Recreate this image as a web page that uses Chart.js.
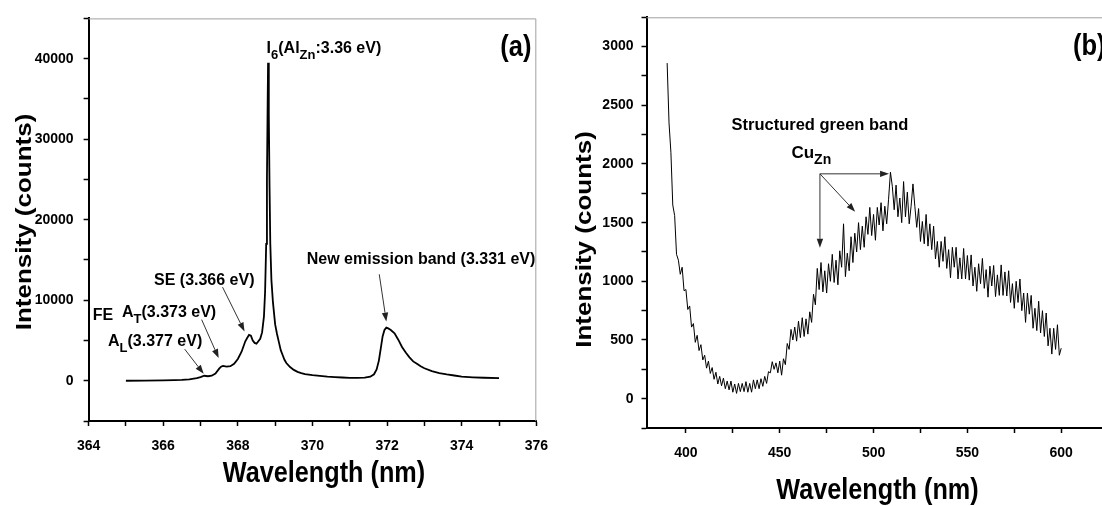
<!DOCTYPE html>
<html>
<head>
<meta charset="utf-8">
<script src="https://cdn.jsdelivr.net/npm/chart.js@4.4.0/dist/chart.umd.min.js"></script>
<style>
    html, body { margin: 0; padding: 0; background: #fff; overflow: hidden; }
    body { width: 1102px; height: 506px; position: relative; }
    canvas { position: absolute; top: 0; }
    #chartA { left: 0; }
    #chartB { left: 560px; }
</style>
</head>
<body>
<canvas id="chartA" width="560" height="506"></canvas>
<canvas id="chartB" width="580" height="506"></canvas>
<script>
// (a) near band edge spectrum
const wavelengthA = [365.0, 365.5, 366.0, 366.3, 366.5, 366.7, 366.9, 367.0, 367.1, 367.2, 367.3, 367.4, 367.5, 367.55, 367.6, 367.7, 367.8, 367.9, 368.0, 368.1, 368.2, 368.25, 368.3, 368.35, 368.4, 368.45, 368.5, 368.55, 368.6, 368.65, 368.7, 368.73, 368.76, 368.78, 368.8, 368.81, 368.83, 368.85, 368.87, 368.9, 368.94, 369.0, 369.05, 369.1, 369.15, 369.2, 369.25, 369.3, 369.4, 369.5, 369.6, 369.7, 369.8, 370.0, 370.2, 370.4, 370.6, 370.8, 371.0, 371.2, 371.4, 371.55, 371.65, 371.72, 371.78, 371.83, 371.88, 371.93, 371.98, 372.03, 372.1, 372.2, 372.3, 372.4, 372.5, 372.6, 372.7, 372.8, 372.9, 373.0, 373.2, 373.4, 373.6, 373.8, 374.0, 374.3, 374.6, 375.0];
const intensityA = [0, 20, 40, 70, 110, 180, 330, 450, 620, 560, 620, 900, 1500, 1750, 1850, 1750, 1800, 2100, 2700, 3600, 4900, 5300, 5700, 5600, 5000, 4700, 4600, 4900, 5200, 6000, 8000, 11000, 17000, 25000, 35000, 39500, 33000, 24000, 17000, 12500, 9800, 7000, 5800, 4800, 3800, 3200, 2600, 2200, 1700, 1350, 1100, 950, 830, 700, 600, 500, 440, 400, 360, 350, 380, 500, 800, 1400, 2500, 4000, 5500, 6300, 6600, 6500, 6300, 5900, 5100, 4200, 3500, 2900, 2400, 2100, 1800, 1550, 1200, 950, 780, 650, 500, 430, 370, 320];

// (b) visible / green band spectrum
const wavelengthB = [
    390, 391, 392, 393, 394, 395, 396, 397, 398, 399,
    400, 401, 402, 403, 404, 405, 406, 407, 408, 409,
    410, 411, 412, 413, 414, 415, 416, 417, 418, 419,
    420, 421, 422, 423, 424, 425, 426, 427, 428, 429,
    430, 431, 432, 433, 434, 435, 436, 437, 438, 439,
    440, 441, 442, 443, 444, 445, 446, 447, 448, 449,
    450, 451, 452, 453, 454, 455, 456, 457, 458, 459,
    460, 461, 462, 463, 464, 465, 466, 467, 468, 469,
    470, 471, 472, 473, 474, 475, 476, 477, 478, 479,
    480, 481, 482, 483, 484, 485, 486, 487, 488, 489,
    490, 491, 492, 493, 494, 495, 496, 497, 498, 499,
    500, 501, 502, 503, 504, 505, 506, 507, 508, 509,
    510, 511, 512, 513, 514, 515, 516, 517, 518, 519,
    520, 521, 522, 523, 524, 525, 526, 527, 528, 529,
    530, 531, 532, 533, 534, 535, 536, 537, 538, 539,
    540, 541, 542, 543, 544, 545, 546, 547, 548, 549,
    550, 551, 552, 553, 554, 555, 556, 557, 558, 559,
    560, 561, 562, 563, 564, 565, 566, 567, 568, 569,
    570, 571, 572, 573, 574, 575, 576, 577, 578, 579,
    580, 581, 582, 583, 584, 585, 586, 587, 588, 589,
    590, 591, 592, 593, 594, 595, 596, 597, 598, 599,
    600
];
const intensityB = [
    2860, 2350, 2100, 1650, 1560, 1230, 1180, 1060, 1120, 920,
    930, 760, 790, 610, 640, 480, 540, 410, 460, 330,
    370, 260, 320, 215, 265, 165, 225, 125, 190, 110,
    175, 85, 150, 75, 150, 55, 125, 45, 130, 60,
    130, 60, 145, 55, 130, 55, 160, 85, 160, 85,
    170, 105, 190, 130, 230, 220, 315, 250, 305, 220,
    320, 200, 340, 290, 470, 420, 590, 500, 610, 490,
    660, 520, 690, 530, 680, 550, 740, 650, 890, 800,
    1110, 930, 1160, 910, 1090, 900, 1150, 1000, 1230, 990,
    1180, 970, 1260, 1120, 1490, 1040, 1240, 1090, 1380, 1160,
    1410, 1250, 1500, 1270, 1470, 1290, 1550, 1400, 1630, 1390,
    1570, 1350, 1630, 1480, 1670, 1430, 1640, 1490, 1700, 1930,
    1810, 1610, 1820, 1550, 1710, 1500, 1850, 1550, 1760, 1490,
    1640, 1830, 1640, 1460, 1620, 1340, 1510, 1320, 1570, 1300,
    1490, 1270, 1470, 1190, 1340, 1120, 1340, 1170, 1380, 1110,
    1270, 1030, 1290, 1120, 1290, 1020, 1200, 1020, 1280, 1020,
    1220, 1010, 1225, 960, 1120, 915, 1150, 980, 1195, 940,
    1100, 865, 1130, 960, 1135, 870, 1055, 880, 1140, 880,
    1080, 875, 1090, 820, 980, 770, 1000, 820, 1020, 750,
    900, 650, 900, 720, 880, 600, 770, 580, 830, 560,
    750, 530, 730, 450, 600, 380, 600, 420, 630, 370,
    430
];

// tick labels shown
const xLabelsA = [364, 366, 368, 370, 372, 374, 376];
const yLabelsA = [0, 10000, 20000, 30000, 40000];
const xLabelsB = [400, 450, 500, 550, 600];
const yLabelsB = [0, 500, 1000, 1500, 2000, 2500, 3000];

const SANS = "'Liberation Sans', Arial, sans-serif";

function drawArrow(ctx, x1, y1, x2, y2) {
    const ang = Math.atan2(y2 - y1, x2 - x1);
    const len = 9, half = 3.2;
    const bx = x2 - len * Math.cos(ang), by = y2 - len * Math.sin(ang);
    ctx.save();
    ctx.strokeStyle = '#333';
    ctx.fillStyle = '#222';
    ctx.lineWidth = 1;
    ctx.beginPath();
    ctx.moveTo(x1, y1);
    ctx.lineTo(bx, by);
    ctx.stroke();
    ctx.beginPath();
    ctx.moveTo(x2, y2);
    ctx.lineTo(bx + half * Math.sin(ang), by - half * Math.cos(ang));
    ctx.lineTo(bx - half * Math.sin(ang), by + half * Math.cos(ang));
    ctx.closePath();
    ctx.fill();
    ctx.restore();
}

// parts: [text, isSubscript]; sx squeezes the text horizontally
function drawRich(ctx, parts, x, y, size, sx, align) {
    const sub = Math.round(size * 0.82);
    ctx.save();
    ctx.fillStyle = '#000';
    ctx.textBaseline = 'middle';
    ctx.textAlign = 'left';
    let total = 0;
    parts.forEach(p => {
        ctx.font = `bold ${p[1] ? sub : size}px ${SANS}`;
        total += ctx.measureText(p[0]).width * sx;
    });
    ctx.translate(align === 'center' ? x - total / 2 : x, y);
    ctx.scale(sx, 1);
    let cx = 0;
    parts.forEach(p => {
        ctx.font = `bold ${p[1] ? sub : size}px ${SANS}`;
        ctx.fillText(p[0], cx, p[1] ? size * 0.42 : 0);
        cx += ctx.measureText(p[0]).width;
    });
    ctx.restore();
}

const overlay = {
    id: 'overlay',
    beforeDatasetsDraw(chart) {
        const {ctx, chartArea: a} = chart;
        ctx.save();
        ctx.strokeStyle = '#a0a0a0';
        ctx.lineWidth = 1;
        ctx.beginPath();
        ctx.moveTo(a.left, a.top + 0.5);
        ctx.lineTo(a.right - 0.5, a.top + 0.5);
        ctx.lineTo(a.right - 0.5, a.bottom);
        ctx.stroke();
        ctx.restore();
    },
    afterDraw(chart, args, opts) {
        const {ctx, scales: {x, y}} = chart;
        (opts.arrows || []).forEach(a => {
            drawArrow(ctx, x.getPixelForValue(a[0]), y.getPixelForValue(a[1]),
                x.getPixelForValue(a[2]), y.getPixelForValue(a[3]));
        });
        (opts.notes || []).forEach(n => {
            drawRich(ctx, n.parts, x.getPixelForValue(n.x), y.getPixelForValue(n.y), n.size, n.sx || 1, n.align);
        });
        // axis titles, squeezed like the original figure
        (opts.titles || []).forEach(t => {
            ctx.save();
            ctx.translate(t.cx, t.cy);
            if (t.rotate) ctx.rotate(-Math.PI / 2);
            ctx.scale(t.sx, t.sy);
            ctx.font = `bold ${t.size}px ${SANS}`;
            ctx.fillStyle = '#000';
            ctx.textAlign = 'center';
            ctx.textBaseline = 'middle';
            ctx.fillText(t.text, 0, 0);
            ctx.restore();
        });
    }
};

function axisOpts(min, max, step, labels, width, height, pad) {
    return {
        type: 'linear',
        min: min,
        max: max,
        afterFit(scale) {
            if (width) scale.width = width;
            if (height) scale.height = height;
        },
        border: { display: true, color: '#000', width: 2 },
        grid: { display: true, drawOnChartArea: false, drawTicks: true, tickLength: 5, tickColor: '#000', tickWidth: 1.5 },
        ticks: {
            stepSize: step,
            autoSkip: false,
            includeBounds: false,
            maxRotation: 0,
            padding: pad,
            color: '#000',
            font: { family: SANS, size: 14, weight: 'bold' },
            callback: v => labels.includes(v) ? String(v) : ''
        }
    };
}

function makeChart(id, xs, ys, lineWidth, xAxis, yAxis, padding, overlayOpts) {
    return new Chart(document.getElementById(id), {
        type: 'line',
        data: {
            datasets: [{
                data: xs.map((v, i) => ({ x: v, y: ys[i] })),
                borderColor: '#000',
                borderWidth: lineWidth,
                pointRadius: 0,
                tension: 0,
                fill: false
            }]
        },
        options: {
            responsive: false,
            animation: false,
            layout: { padding: padding },
            scales: { x: xAxis, y: yAxis },
            plugins: { legend: { display: false }, tooltip: { enabled: false }, overlay: overlayOpts }
        },
        plugins: [overlay]
    });
}

makeChart('chartA', wavelengthA, intensityA, 1.8,
    axisOpts(364, 376, 1, xLabelsA, null, 85, 12),
    axisOpts(-5000, 45000, 5000, yLabelsA, 88.6, null, 10),
    { left: 0, top: 12.7, right: 22.5, bottom: 0 },
    {
        arrows: [
            [371.79, 13220, 371.98, 7344],
            [367.59, 11628, 368.18, 6120],
            [367.03, 7589, 367.486, 2815],
            [366.577, 3917, 367.085, 857]
        ],
        notes: [
            { parts: [['I', 0], ['6', 1], ['(Al', 0], ['Zn', 1], [':3.36 eV)', 0]], x: 368.77, y: 41250, size: 16, align: 'left' },
            { parts: [['(a)', 0]], x: 375.45, y: 41370, size: 30, sx: 0.85, align: 'center' },
            { parts: [['New emission band (3.331 eV)', 0]], x: 372.91, y: 15050, size: 16, align: 'center' },
            { parts: [['SE (3.366 eV)', 0]], x: 367.10, y: 12485, size: 16, align: 'center' },
            { parts: [['FE', 0]], x: 364.385, y: 8078, size: 16, align: 'center' },
            { parts: [['A', 0], ['T', 1], ['(3.373 eV)', 0]], x: 364.895, y: 8446, size: 16, align: 'left' },
            { parts: [['A', 0], ['L', 1], ['(3.377 eV)', 0]], x: 364.52, y: 4896, size: 16, align: 'left' }
        ],
        titles: [
            { text: 'Wavelength (nm)', cx: 324, cy: 474, size: 29, sx: 0.87, sy: 1 },
            { text: 'Intensity (counts)', cx: 25, cy: 222, size: 26, sx: 1, sy: 0.85, rotate: true }
        ]
    });

makeChart('chartB', wavelengthB, intensityB, 1,
    axisOpts(379, 630, 25, xLabelsB, null, 78, 12),
    axisOpts(-250, 3250, 250, yLabelsB, 86.5, null, 8),
    { left: 0, top: 17.3, right: 22.5, bottom: 0 },
    {
        arrows: [
            [471.42, 1916, 508.25, 1916],
            [471.42, 1916, 490.2, 1593],
            [471.42, 1916, 471.42, 1286]
        ],
        notes: [
            { parts: [['Structured green band', 0]], x: 471.42, y: 2325, size: 16.5, align: 'center' },
            { parts: [['Cu', 0], ['Zn', 1]], x: 456.25, y: 2095, size: 17, align: 'left' },
            { parts: [['(b)', 0]], x: 606.3, y: 2998, size: 30, sx: 0.85, align: 'left' }
        ],
        titles: [
            { text: 'Wavelength (nm)', cx: 317.5, cy: 491, size: 29, sx: 0.87, sy: 1 },
            { text: 'Intensity (counts)', cx: 25, cy: 239.5, size: 26, sx: 1, sy: 0.85, rotate: true }
        ]
    });
</script>
</body>
</html>
